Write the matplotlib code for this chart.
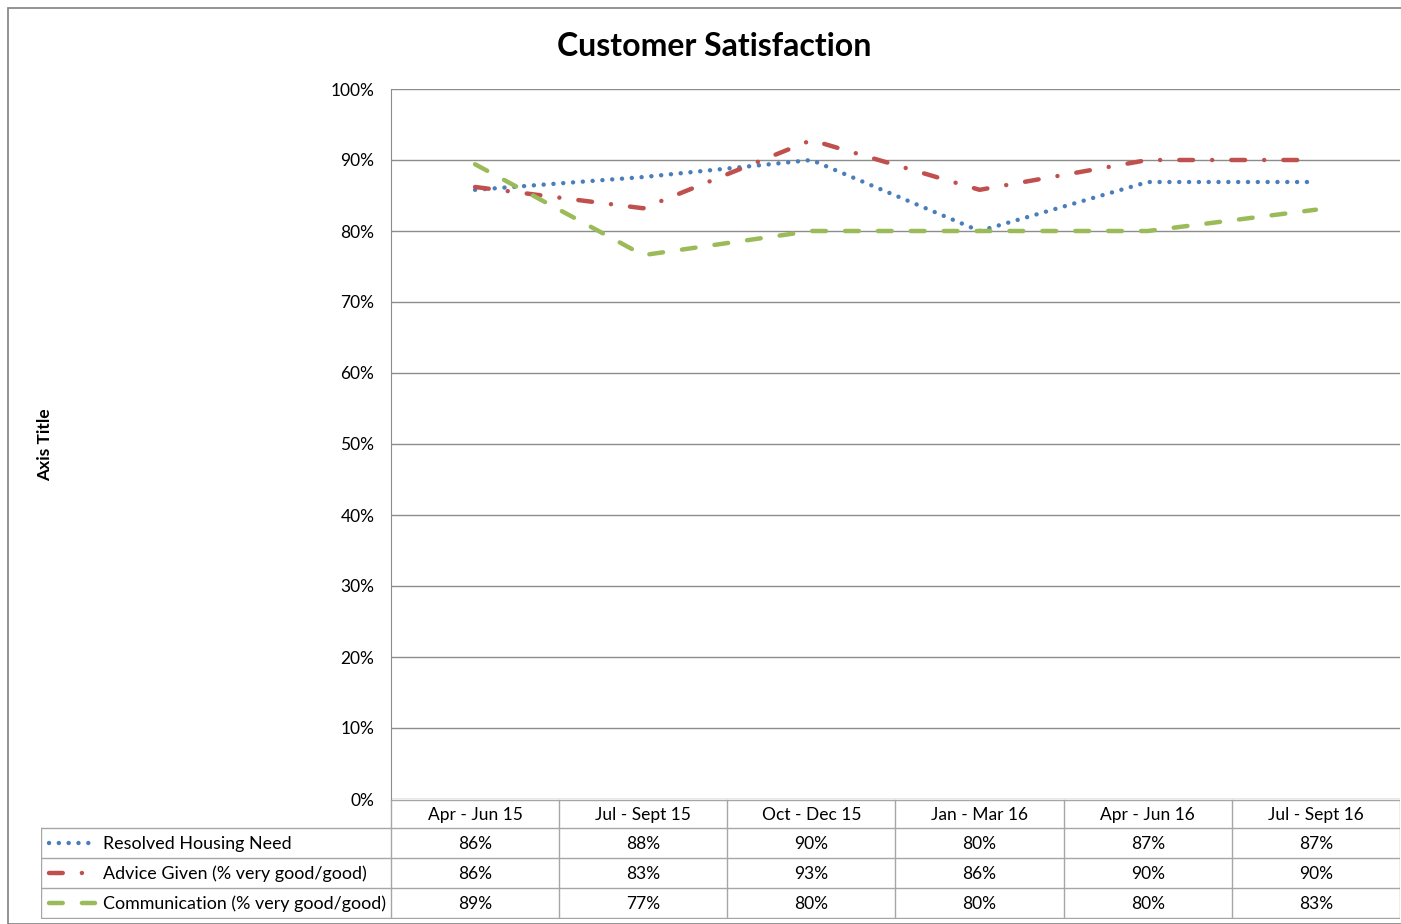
import matplotlib.pyplot as plt
from matplotlib.lines import Line2D
from matplotlib.patches import Rectangle

# quarterly survey results (fraction of respondents)
quarters = ["Apr - Jun 15", "Jul - Sept 15", "Oct - Dec 15",
            "Jan - Mar 16", "Apr - Jun 16", "Jul - Sept 16"]
resolved = [85.8, 87.6, 90.0, 80.0, 86.9, 86.9]
advice = [86.2, 83.2, 92.8, 85.8, 90.0, 90.0]
communication = [89.4, 76.6, 80.0, 80.0, 80.0, 83.0]
series_names = ["Resolved Housing Need",
                "Advice Given (% very good/good)",
                "Communication (% very good/good)"]
y_ticks = [0, 10, 20, 30, 40, 50, 60, 70, 80, 90, 100]

plt.rcParams['font.family'] = ['Lato', 'DejaVu Sans']

W, H = 1401, 924
fig = plt.figure(figsize=(W / 100, H / 100), dpi=100)

def fx(px):
    return px / W

def fy(py):
    return 1 - py / H

# outer chart border
fig.patches.append(Rectangle((fx(8), fy(924)), fx(1420) - fx(8), fy(8) - fy(924),
                             transform=fig.transFigure, fill=False,
                             edgecolor="#8a8a8a", lw=1.3))

# plot area
left, right, top, bottom = 391, 1400, 89, 799
ax = fig.add_axes([fx(left), fy(bottom), fx(right) - fx(left), fy(top) - fy(bottom)])
ax.set_xlim(-0.5, len(quarters) - 0.5)
ax.set_ylim(0, 100)

grid_c = "#8c8c8c"
for v in y_ticks:
    ax.axhline(v, color=grid_c, lw=1.0, zorder=1)
for s in ["top", "right", "bottom"]:
    ax.spines[s].set_visible(False)
ax.spines["left"].set_color(grid_c)
ax.set_xticks([])
ax.set_yticks(y_ticks)
ax.set_yticklabels([f"{v}%" for v in y_ticks], fontsize=12.5)
ax.tick_params(axis="y", length=0, pad=12)

colors = ["#4a7ebb", "#c0504d", "#9bbb59"]
styles = [(0, (0.01, 2.2)), (0, (3.1, 4.3, 0.01, 4.3)), (0, (3.1, 4.3))]
lw = 3.2
xs = range(len(quarters))
for vals, c, ls in zip([resolved, advice, communication], colors, styles):
    ax.plot(xs, vals, color=c, lw=lw, linestyle=ls,
            dash_capstyle="round", solid_capstyle="round", zorder=3)

fig.text(fx(714), fy(46), "Customer Satisfaction", ha="center", va="center",
         fontsize=23, fontweight="bold")
fig.text(fx(45), fy(445), "Axis Title", ha="center", va="center",
         rotation=90, fontsize=12.5, fontweight="bold")

# data table under the plot, x aligned with the category positions
unit = (right - left) / len(quarters)
x0 = -0.5 - (left - 41) / unit
tab = fig.add_axes([fx(41), fy(919), fx(right) - fx(41), fy(799) - fy(919)])
tab.set_xlim(x0, len(quarters) - 0.5)
tab.set_ylim(919, 799)
tab.axis("off")

line_c = "#a6a6a6"
row_edges = [828, 858, 888, 918]
tab.plot([-0.5, len(quarters) - 0.5], [800, 800], color=line_c, lw=1)
for y in row_edges:
    tab.plot([x0, len(quarters) - 0.5], [y, y], color=line_c, lw=1)
tab.plot([x0, x0], [828, 918], color=line_c, lw=1)
for i in range(len(quarters) + 1):
    tab.plot([i - 0.5, i - 0.5], [800, 918], color=line_c, lw=1)

for i, q in enumerate(quarters):
    tab.text(i, 815, q, ha="center", va="center", fontsize=12.5)

rows = [resolved, advice, communication]
for r, (vals, name, c, ls) in enumerate(zip(rows, series_names, colors, styles)):
    yc = (row_edges[r] + row_edges[r + 1]) / 2
    for i, v in enumerate(vals):
        tab.text(i, yc + 1, f"{round(v)}%", ha="center", va="center", fontsize=12.5)
    tab.text(x0 + (103 - 41) / unit, yc + 1, name, ha="left", va="center", fontsize=12.9)
    sample = Line2D([fx(49), fx(95)], [fy(yc), fy(yc)], transform=fig.transFigure,
                    color=c, lw=lw, linestyle=ls, dash_capstyle="round",
                    solid_capstyle="round")
    fig.lines.append(sample)

fig.savefig("out.png", dpi=100)
